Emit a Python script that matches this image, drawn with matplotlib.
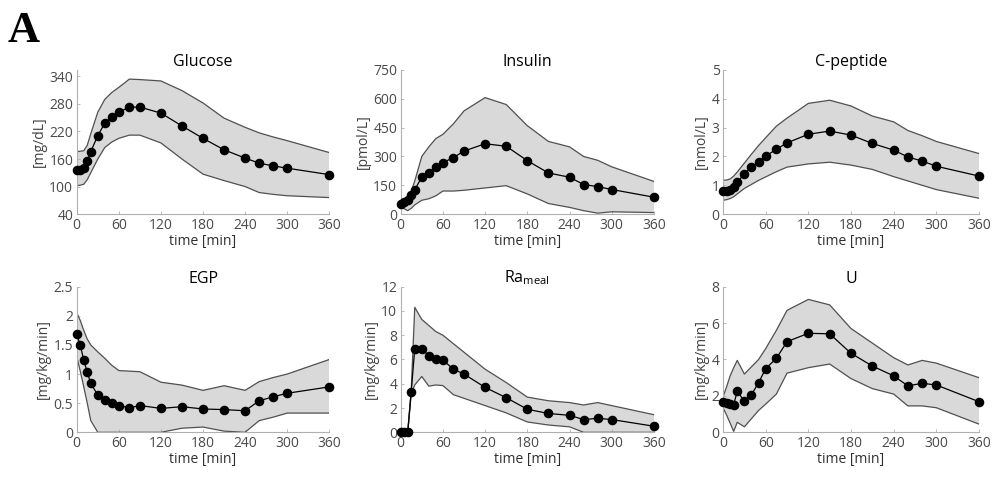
import matplotlib
matplotlib.use("Agg")
import matplotlib.pyplot as plt

plt.rcParams['font.family'] = ['Open Sans', 'DejaVu Sans']
plt.rcParams['mathtext.fontset'] = 'custom'
plt.rcParams['mathtext.rm'] = 'Open Sans'
plt.rcParams['mathtext.it'] = 'Open Sans'

# Sampling times [min]
time = [0, 5, 10, 15, 20, 30, 40, 50, 60, 75, 90, 120, 150, 180, 210, 240, 260, 280, 300, 360]

# Glucose [mg/dL]
glucose_mean = [137, 137, 141, 156, 176, 211, 238, 252, 262, 273, 273, 260, 232, 205, 180, 162, 151, 145, 140, 126]
glucose_hi = [176, 177, 178, 190, 215, 262, 290, 305, 316, 334, 333, 330, 309, 282, 249, 229, 217, 208, 200, 174]
glucose_lo = [102, 103, 105, 115, 130, 160, 185, 197, 205, 212, 212, 195, 160, 127, 113, 100, 87, 83, 80, 76]

# Insulin [pmol/L]
insulin_mean = [54, 62, 75, 97, 126, 193, 216, 245, 268, 294, 328, 366, 353, 278, 214, 192, 154, 143, 128, 88]
insulin_hi = [60, 68, 80, 120, 172, 300, 350, 393, 415, 470, 537, 606, 570, 460, 378, 350, 300, 280, 246, 170]
insulin_lo = [36, 28, 18, 30, 48, 72, 80, 95, 120, 120, 124, 136, 148, 105, 55, 35, 18, 5, 12, 8]

# C-peptide [nmol/L]
cpep_mean = [0.80, 0.80, 0.85, 0.94, 1.11, 1.40, 1.64, 1.81, 2.01, 2.25, 2.47, 2.77, 2.88, 2.74, 2.45, 2.22, 1.98, 1.84, 1.66, 1.32]
cpep_hi = [1.18, 1.18, 1.22, 1.32, 1.46, 1.77, 2.08, 2.38, 2.65, 3.05, 3.33, 3.84, 3.95, 3.75, 3.40, 3.20, 2.90, 2.72, 2.52, 2.10]
cpep_lo = [0.48, 0.50, 0.54, 0.60, 0.70, 0.89, 1.03, 1.17, 1.29, 1.47, 1.63, 1.74, 1.80, 1.70, 1.55, 1.30, 1.15, 1.00, 0.85, 0.55]

# EGP [mg/kg/min]
egp_mean = [1.68, 1.50, 1.24, 1.03, 0.84, 0.64, 0.55, 0.51, 0.46, 0.42, 0.46, 0.41, 0.44, 0.40, 0.39, 0.37, 0.54, 0.61, 0.67, 0.78]
egp_hi = [2.05, 1.92, 1.75, 1.60, 1.50, 1.38, 1.27, 1.15, 1.06, 1.05, 1.04, 0.86, 0.81, 0.72, 0.80, 0.72, 0.87, 0.94, 1.00, 1.25]
egp_lo = [1.30, 1.05, 0.78, 0.50, 0.20, 0.0, 0.0, 0.0, 0.0, 0.0, 0.0, 0.0, 0.07, 0.09, 0.02, 0.0, 0.20, 0.26, 0.33, 0.33]

# Ra meal [mg/kg/min]
ra_mean = [0, 0, 0, 3.35, 6.9, 6.9, 6.3, 6.05, 5.95, 5.2, 4.8, 3.7, 2.85, 1.9, 1.55, 1.4, 1.05, 1.15, 1.05, 0.5]
ra_hi = [0, 0, 0, 3.5, 10.3, 9.3, 8.8, 8.3, 8.0, 7.3, 6.6, 5.2, 4.1, 2.9, 2.6, 2.45, 2.25, 2.45, 2.2, 1.45]
ra_lo = [0, 0, 0, 3.2, 3.9, 4.6, 3.8, 3.9, 3.85, 3.1, 2.8, 2.2, 1.6, 0.85, 0.6, 0.45, 0.0, 0.0, 0.0, 0.0]

# U [mg/kg/min]
u_mean = [1.67, 1.61, 1.56, 1.52, 2.26, 1.70, 2.07, 2.72, 3.50, 4.06, 4.98, 5.44, 5.41, 4.34, 3.64, 3.10, 2.55, 2.69, 2.60, 1.68]
u_hi = [1.95, 2.50, 3.10, 3.55, 3.95, 3.20, 3.60, 4.00, 4.60, 5.60, 6.70, 7.30, 7.00, 5.70, 4.90, 4.10, 3.70, 3.95, 3.80, 3.00]
u_lo = [1.35, 0.95, 0.50, 0.05, 0.55, 0.30, 0.75, 1.20, 1.55, 2.10, 3.25, 3.55, 3.75, 2.95, 2.40, 2.10, 1.45, 1.45, 1.35, 0.45]

x_ticks = [0, 60, 120, 180, 240, 300, 360]

panels = [
    dict(title='Glucose', unit='[mg/dL]', m=glucose_mean, hi=glucose_hi, lo=glucose_lo,
         ylim=(40, 354), yticks=[40, 100, 160, 220, 280, 340]),
    dict(title='Insulin', unit='[pmol/L]', m=insulin_mean, hi=insulin_hi, lo=insulin_lo,
         ylim=(0, 750), yticks=[0, 150, 300, 450, 600, 750]),
    dict(title='C-peptide', unit='[nmol/L]', m=cpep_mean, hi=cpep_hi, lo=cpep_lo,
         ylim=(0, 5), yticks=[0, 1, 2, 3, 4, 5]),
    dict(title='EGP', unit='[mg/kg/min]', m=egp_mean, hi=egp_hi, lo=egp_lo,
         ylim=(0, 2.5), yticks=[0, 0.5, 1, 1.5, 2, 2.5]),
    dict(title=r'Ra$_{\mathrm{meal}}$', unit='[mg/kg/min]', m=ra_mean, hi=ra_hi, lo=ra_lo,
         ylim=(0, 12), yticks=[0, 2, 4, 6, 8, 10, 12]),
    dict(title='U', unit='[mg/kg/min]', m=u_mean, hi=u_hi, lo=u_lo,
         ylim=(0, 8), yticks=[0, 2, 4, 6, 8]),
]

fig = plt.figure(figsize=(9.94, 4.79), dpi=100)
fig.patch.set_facecolor('white')

lefts = [0.0772, 0.4031, 0.7274]
widths = [0.2541, 0.2548, 0.2575]
bottoms = [0.553, 0.0975]
heights = [0.301, 0.304]

tick_color = '#4a4a4a'
spine_color = '#b0b0b0'

for i, p in enumerate(panels):
    r, c = divmod(i, 3)
    ax = fig.add_axes([lefts[c], bottoms[r], widths[c], heights[r]])
    ax.fill_between(time, p['lo'], p['hi'], facecolor='#d9d9d9', edgecolor='none', zorder=1)
    ax.plot(time, p['hi'], color='#505050', lw=0.9, zorder=2)
    ax.plot(time, p['lo'], color='#505050', lw=0.9, zorder=2)
    ax.plot(time, p['m'], color='black', lw=0.9, marker='o', ms=5.9,
            markerfacecolor='black', markeredgecolor='black', zorder=3, clip_on=False)
    ax.set_xlim(0, 360)
    ax.set_ylim(*p['ylim'])
    ax.set_xticks(x_ticks)
    ax.set_yticks(p['yticks'])
    ax.set_yticklabels(['%g' % v for v in p['yticks']])
    for s in ['top', 'right']:
        ax.spines[s].set_visible(False)
    for s in ['left', 'bottom']:
        ax.spines[s].set_color(spine_color)
        ax.spines[s].set_linewidth(0.8)
    ax.tick_params(direction='in', length=2.5, width=0.6, color=spine_color,
                   labelsize=10, labelcolor=tick_color)
    ax.tick_params(axis='x', pad=2.5)
    ax.tick_params(axis='y', pad=2.5)
    ax.set_title(p['title'], fontsize=11.5, color='black', pad=3)
    ax.set_xlabel('time [min]', fontsize=10, color='#303030', labelpad=1)
    ax.set_ylabel(p['unit'], fontsize=10, color='#404040', labelpad=2)
    ax.patch.set_alpha(0)

fig.text(0.008, 0.978, 'A', fontsize=32, fontweight='bold', family='Liberation Serif',
         ha='left', va='top', color='black')

fig.savefig('out.png', dpi=100, facecolor='white')
